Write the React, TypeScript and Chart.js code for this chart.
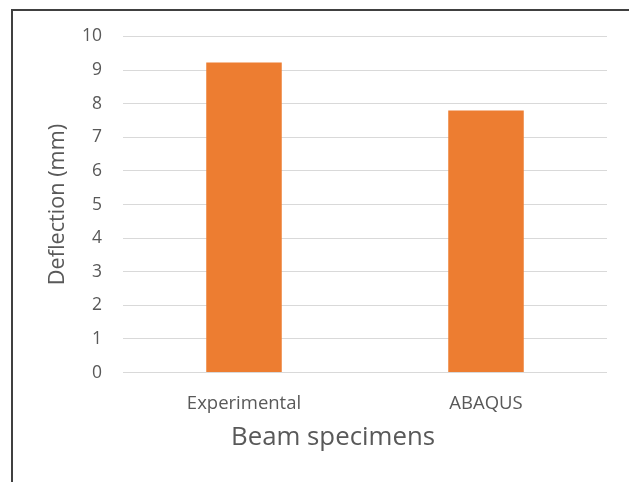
import React, { useEffect, useRef } from "react";
import { Chart, registerables } from "chart.js";

Chart.register(...registerables);

const categories: string[] = ["Experimental", "ABAQUS"];
const deflection: number[] = [9.23, 7.8];
const yMin = 0;
const yMax = 10;
const yStep = 1;
const xTitle = "Beam specimens";
const yTitle = "Deflection (mm)";

const FONT = "'Open Sans', sans-serif";
const TEXT = "#595959";
const GRID = "#d9d9d9";

export default function App() {
  const ref = useRef<HTMLCanvasElement | null>(null);

  useEffect(() => {
    if (!ref.current) return;
    const chart = new Chart(ref.current, {
      type: "bar",
      data: {
        labels: categories,
        datasets: [
          {
            label: yTitle,
            data: deflection,
            backgroundColor: "#ED7D31",
            borderWidth: 0,
            categoryPercentage: 1,
            barPercentage: 0.312,
          },
        ],
      },
      options: {
        animation: false,
        responsive: false,
        layout: { padding: { left: 37, right: 0, top: 36.5, bottom: 0 } },
        plugins: {
          legend: { display: false },
          tooltip: { enabled: false },
          title: {
            display: true,
            text: xTitle,
            position: "bottom",
            color: TEXT,
            font: { family: FONT, size: 25.8, weight: "normal" },
            padding: { top: 0, bottom: 29 },
          },
        },
        scales: {
          x: {
            grid: { display: false },
            border: { display: false },
            ticks: {
              color: TEXT,
              font: { family: FONT, size: 18.5 },
              padding: 12,
              maxRotation: 0,
            },
            afterFit: (s: any) => {
              s.height = 49.5;
            },
          },
          y: {
            min: yMin,
            max: yMax,
            grid: { color: GRID, lineWidth: 1, drawTicks: false },
            border: { display: false },
            ticks: {
              stepSize: yStep,
              color: TEXT,
              font: { family: FONT, size: 17.5 },
              padding: 21,
            },
            title: {
              display: true,
              text: yTitle,
              color: TEXT,
              font: { family: FONT, size: 21.7 },
              padding: { top: 8, bottom: 0 },
            },
            afterFit: (s: any) => {
              s.width = 86;
            },
          },
          yR: {
            type: "linear",
            position: "right",
            display: true,
            grid: { display: false },
            border: { display: false },
            ticks: { display: false },
            afterFit: (s: any) => {
              s.width = 22;
            },
          },
        },
      },
    } as any);
    return () => chart.destroy();
  }, []);

  return (
    <div
      style={{
        position: "fixed",
        left: 0,
        top: 0,
        width: 629,
        height: 482,
        overflow: "hidden",
        background: "#ffffff",
      }}
    >
      <canvas ref={ref} width={629} height={482} style={{ display: "block" }} />
      <div
        style={{
          position: "absolute",
          left: 11,
          top: 9,
          width: 700,
          height: 600,
          border: "2px solid #404040",
          pointerEvents: "none",
        }}
      />
    </div>
  );
}
